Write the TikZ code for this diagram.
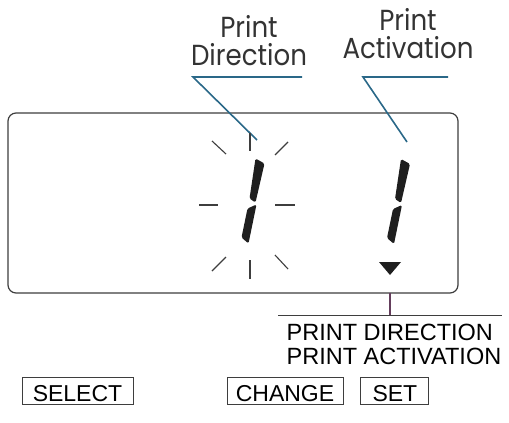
\documentclass[tikz,border=0pt]{standalone}
\usepackage{fontspec}
\setmainfont{Liberation Sans}
\newfontfamily\thinfont{Poppins}[FakeStretch=0.9]
\usetikzlibrary{positioning}
\definecolor{leadteal}{RGB}{42,104,136}
\definecolor{rimgray}{RGB}{62,62,62}
\definecolor{stemplum}{RGB}{100,62,92}

\tikzset{digitone/.pic={
  \fill[seg] (0,0) -- (9,5) -- (0,44) -- (-6,40) -- cycle;
  \fill[seg] (1,46) -- (-7,85) -- (-14,79) -- (-8,50) -- cycle;
}}

\begin{document}
\begin{tikzpicture}[x=1pt,y=-1pt,
  lcdrim/.style={draw=rimgray,line width=1.2pt,rounded corners=8pt},
  leader/.style={draw=leadteal,line width=1.6pt},
  ray/.style={draw=rimgray,line width=1.1pt},
  seg/.style={fill=black!88,rounded corners=1.5pt},
  keybox/.style={draw=rimgray,line width=0.9pt,inner xsep=0pt,inner ysep=0pt,
    text height=23.6pt,text depth=3.3pt,font=\fontsize{23}{24}\selectfont},
  callout/.style={align=center,font=\thinfont\fontsize{29}{28}\selectfont,text=black!80},
  modetext/.style={align=left,font=\fontsize{23.5}{24}\selectfont,inner sep=0pt}]
\useasboundingbox (0,0) rectangle (509,423);

% display window
\draw[lcdrim] (8,113) rectangle (458,293);

% labels above
\node[callout,anchor=base] (pdir) at (249,65) {Print\\Direction};
\node[callout,anchor=base] (pact) at (408,58) {Print\\Activation};
\coordinate (pdirL) at (193,77);
\coordinate (pdirR) at (302,77);
\coordinate (pdirTip) at (257,140);
\coordinate (pactL) at (363,77);
\coordinate (pactR) at (448,77);
\coordinate (pactTip) at (407,142);
\draw[leader] (pdirR) -- (pdirL) -- (pdirTip);
\draw[leader] (pactR) -- (pactL) -- (pactTip);

% blinking digit
\foreach \xa/\ya/\xb/\yb in {250/133/250/151, 250/260/250/279, 199/205/218/205,
  275/205/295/205, 212/141/226/154, 288/142/275/155, 212/271/226/257, 275/255/288/269}
  \draw[ray] (\xa,\ya) -- (\xb,\yb);
\pic at (255.5,158.5) {digitone};

% steady digit and cursor
\pic at (401,159) {digitone};
\fill[black!88] (379,262) -- (401,262) -- (390,275) -- cycle;

% mode callout
\coordinate (stemtop) at (390,293);
\coordinate (stembot) at (390,315.5);
\coordinate (ruleL) at (278,315.5);
\coordinate (ruleR) at (502,315.5);
\draw[stemplum,line width=1.2pt] (stemtop) -- (stembot);
\draw[rimgray,line width=1pt] (ruleL) -- (ruleR);
\node[modetext,anchor=base west] (modes) at (286.5,364) {PRINT DIRECTION\\PRINT ACTIVATION};

% keys
\node[keybox,minimum width=111pt] (select) at (77.5,377) [anchor=north] {SELECT};
\node[keybox,minimum width=116pt] (change) at (285,377) [anchor=north] {CHANGE};
\node[keybox,minimum width=68pt,right=17pt of change] (set) {SET};
\end{tikzpicture}
\end{document}
